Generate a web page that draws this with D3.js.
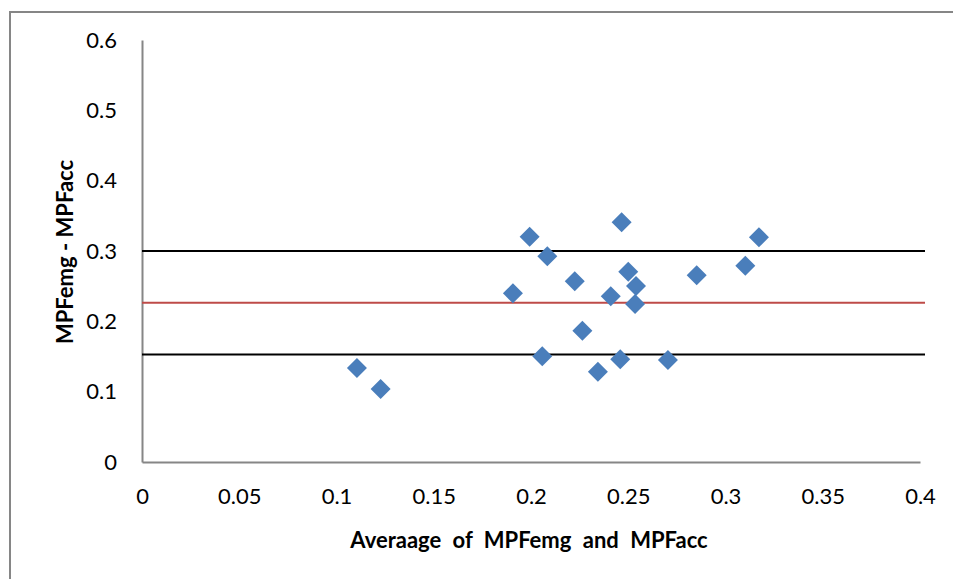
<!DOCTYPE html>
<html>
<head>
<meta charset="utf-8">
<script src="https://cdn.jsdelivr.net/npm/d3@7"></script>
<style>
  html, body { margin: 0; padding: 0; background: #fff; }
  svg { display: block; }
  text { font-family: Lato, "Open Sans", sans-serif; fill: #000; }
</style>
</head>
<body>
<svg id="chart" width="953" height="579"></svg>
<script>
// Data
const xValues = [0.1105, 0.1227, 0.1993, 0.2084, 0.1907, 0.2225, 0.2466, 0.2500, 0.2540, 0.2410,
                 0.2535, 0.2264, 0.2058, 0.2459, 0.2344, 0.2704, 0.2852, 0.3102, 0.3172];
const yValues = [0.1337, 0.1038, 0.3204, 0.2925, 0.2398, 0.2569, 0.3408, 0.2706, 0.2502, 0.2356,
                 0.2247, 0.1867, 0.1503, 0.1460, 0.1284, 0.1450, 0.2655, 0.2791, 0.3195];
const meanLine = [0.2265];
const limitLines = [0.3000, 0.1530];
const xTicks = [0, 0.05, 0.1, 0.15, 0.2, 0.25, 0.3, 0.35, 0.4];
const yTicks = [0, 0.1, 0.2, 0.3, 0.4, 0.5, 0.6];
const xTitle = "Averaage of MPFemg and MPFacc";
const yTitle = "MPFemg - MPFacc";

const svg = d3.select("#chart");

// outer chart border
svg.append("rect")
  .attr("x", 10).attr("y", 12)
  .attr("width", 960).attr("height", 600)
  .attr("fill", "none").attr("stroke", "#868686").attr("stroke-width", 2);

const x = d3.scaleLinear().domain([0, 0.4]).range([142, 920]);
const y = d3.scaleLinear().domain([0, 0.6]).range([462, 40]);

const fmt = d => String(+d.toFixed(2));

// axes
const xAxis = svg.append("g").attr("transform", `translate(0,${y(0)})`)
  .call(d3.axisBottom(x).tickValues(xTicks).tickSize(0).tickPadding(26).tickFormat(fmt));
xAxis.select(".domain").attr("stroke", "#868686").attr("stroke-width", 2);
xAxis.selectAll("text").style("font-size", "22px").attr("font-family", "Lato, sans-serif");

const yAxis = svg.append("g").attr("transform", `translate(${x(0)},0)`)
  .call(d3.axisLeft(y).tickValues(yTicks).tickSize(0).tickPadding(25).tickFormat(fmt));
yAxis.select(".domain").attr("stroke", "#868686").attr("stroke-width", 2);
yAxis.selectAll("text").style("font-size", "22px").attr("font-family", "Lato, sans-serif");

// reference lines
svg.selectAll("line.limit").data(limitLines).enter().append("line")
  .attr("class", "limit")
  .attr("x1", x(0)).attr("x2", x(0.4) + 5)
  .attr("y1", d => y(d)).attr("y2", d => y(d))
  .attr("stroke", "#000").attr("stroke-width", 2);
svg.selectAll("line.mean").data(meanLine).enter().append("line")
  .attr("class", "mean")
  .attr("x1", x(0)).attr("x2", x(0.4) + 5)
  .attr("y1", d => y(d)).attr("y2", d => y(d))
  .attr("stroke", "#BE4B48").attr("stroke-width", 2);

// points (diamonds)
const sym = d3.symbol().type(d3.symbolSquare).size(200);
svg.selectAll("path.pt").data(xValues.map((v, i) => [v, yValues[i]])).enter().append("path")
  .attr("class", "pt")
  .attr("d", sym)
  .attr("transform", d => `translate(${x(d[0])},${y(d[1])}) rotate(45)`)
  .attr("fill", "#4A7EBB");

// titles
svg.append("text")
  .attr("x", 529).attr("y", 548)
  .attr("text-anchor", "middle")
  .style("font-size", "22px").style("font-weight", "bold").style("word-spacing", "6px")
  .text(xTitle);
svg.append("text")
  .attr("transform", "translate(73,252) rotate(-90)")
  .attr("text-anchor", "middle")
  .style("font-size", "22px").style("font-weight", "bold")
  .text(yTitle);
</script>
</body>
</html>
